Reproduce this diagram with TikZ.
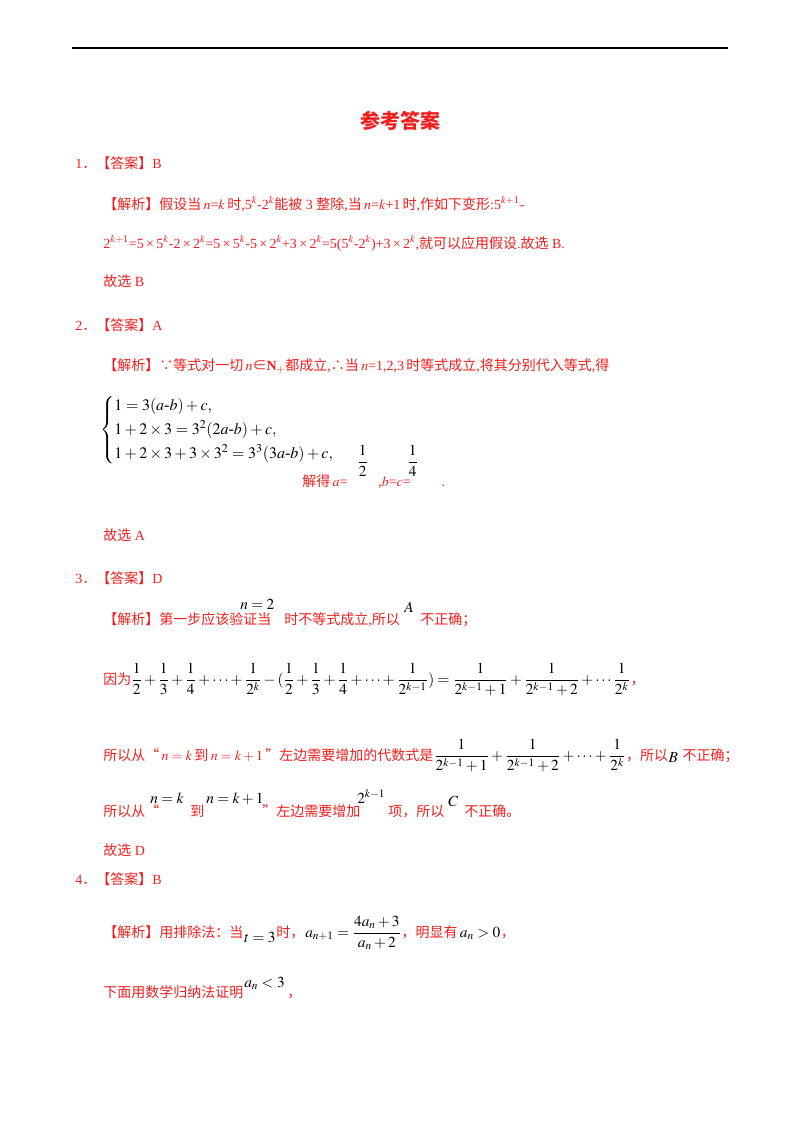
\documentclass[tikz,border=0pt]{standalone}
\usepackage{amsmath}
\usepackage{mathptmx}
\usepackage{fontspec}
\setmainfont{Liberation Serif}
\newfontfamily\cjk{Noto Sans CJK SC}
\definecolor{ans}{HTML}{F01E1E}
\newcommand{\zh}[1]{{\cjk #1}}
\begin{document}
\begin{tikzpicture}[x=0.75pt,y=-0.75pt,
  txt/.style={anchor=base west,inner sep=0,text=ans,font=\fontsize{10.5}{12}\selectfont},
  blk/.style={anchor=base west,inner sep=0,text=black,font=\fontsize{11.5}{13}\selectfont}]
\useasboundingbox (0,0) rectangle (800,1132);
\coordinate (rl) at (72,48); \coordinate (rr) at (728,48);
\draw[line width=1.2pt] (rl) -- (rr);
\node[anchor=center,inner sep=0,text=ans,font=\fontsize{15}{18}\selectfont\cjk\bfseries] (title) at (400,121) {参考答案};
% 1
\node[txt] (h1) at (75,168) {1\zh{．【答案】}B};
\node[txt] (p1a) at (103,209) {\zh{【解析】假设当}\,$n$=$k$\,\zh{时},5$^k$-2$^k$\zh{能被} 3 \zh{整除},\zh{当}\,$n$=$k$+1\,\zh{时},\zh{作如下变形}:5$^{k+1}$-};
\node[txt] (p1b) at (103,248) {2$^{k+1}$=5\,×\,5$^k$-2\,×\,2$^k$=5\,×\,5$^k$-5\,×\,2$^k$+3\,×\,2$^k$=5(5$^k$-2$^k$)+3\,×\,2$^k$,\zh{就可以应用假设}.\zh{故选} B.};
\node[txt] (g1) at (103,286) {\zh{故选} B};
% 2
\node[txt] (h2) at (75,330) {2\zh{．【答案】}A};
\node[txt] (p2) at (103,370) {\zh{【解析】∵等式对一切}\,$n$\zh{∈}\textbf{N}$_+$\zh{都成立},\zh{∴当}\,$n$=1,2,3\,\zh{时等式成立},\zh{将其分别代入等式},\zh{得}};
\node[anchor=west,inner sep=0,font=\fontsize{12}{14}\selectfont] (sys) at (100,430) {$\begin{cases}1=3(a\text{-}b)+c,\\[1pt] 1+2\times3=3^2(2a\text{-}b)+c,\\[1pt] 1+2\times3+3\times3^2=3^3(3a\text{-}b)+c,\end{cases}$};
\node[blk] (f12) at (357,466) {$\dfrac{1}{2}$};
\node[blk] (f14) at (407,466) {$\dfrac{1}{4}$};
\node[txt] (sol) at (302,486) {\zh{解得}\,$a$=\hspace{2.2em},$b$=$c$=\hspace{2.2em}.};
\node[txt] (g2) at (103,540) {\zh{故选} A};
% 3
\node[txt] (h3) at (75,583) {3\zh{．【答案】}D};
\node[txt] (p3a) at (103,624) {\zh{【解析】第一步应该验证当}};
\node[blk] (n2) at (240,609) {$n=2$};
\node[txt] (p3b) at (284,624) {\zh{时不等式成立},\zh{所以}};
\node[blk] (A) at (404,612) {$A$};
\node[txt] (p3c) at (420,624) {\zh{不正确；}};
\node[txt] (yw) at (103,684) {\zh{因为}};
\node[blk] (eq1) at (131,684) {$\dfrac12+\dfrac13+\dfrac14+\cdots+\dfrac{1}{2^k}-(\dfrac12+\dfrac13+\dfrac14+\cdots+\dfrac{1}{2^{k-1}})=\dfrac{1}{2^{k-1}+1}+\dfrac{1}{2^{k-1}+2}+\cdots\dfrac{1}{2^k}$};
\node[txt] (c1) at (eq1.base east) {\zh{，}};
\node[txt] (l3a) at (103,760) {\zh{所以从“}\,$n=k$\,\zh{到}\,$n=k+1$\,\zh{”左边需要增加的代数式是}};
\node[blk] (eq2) at (l3a.base east) {$\dfrac{1}{2^{k-1}+1}+\dfrac{1}{2^{k-1}+2}+\cdots+\dfrac{1}{2^k}$};
\node[txt] (l3b) at (eq2.base east) {\zh{，所以}};
\node[blk,anchor=base west] (B) at ([yshift=-2pt]l3b.base east) {$B$};
\node[txt] (l3c) at ([xshift=3pt]l3b.base -| B.east) {\zh{不正确；}};
\node[txt] (l4a) at (103,816) {\zh{所以从“}};
\node[blk] (nk) at (150,803) {$n=k$};
\node[txt] (l4b) at (190,816) {\zh{到}};
\node[blk] (nk1) at (206,803) {$n=k+1$};
\node[txt] (l4c) at (262,816) {\zh{”左边需要增加}};
\node[blk] (pw) at (357,803) {$2^{k-1}$};
\node[txt] (l4d) at (388,816) {\zh{项，所以}};
\node[blk] (C) at (448,806) {$C$};
\node[txt] (l4e) at (464,816) {\zh{不正确。}};
\node[txt] (g3) at (103,855) {\zh{故选} D};
% 4
\node[txt] (h4) at (75,884) {4\zh{．【答案】}B};
\node[txt] (p4a) at (103,937) {\zh{【解析】用排除法：当}};
\node[blk] (t3) at (244,942) {$t=3$};
\node[txt] (p4b) at (276,937) {\zh{时，}};
\node[blk] (rec) at (305,937) {$a_{n+1}=\dfrac{4a_n+3}{a_n+2}$};
\node[txt] (p4c) at (rec.base east) {\zh{，明显有}};
\node[blk] (pos) at (p4c.base east) {$\,a_n>0$};
\node[txt] (p4d) at (pos.base east) {\zh{，}};
\node[txt] (p4e) at (103,997) {\zh{下面用数学归纳法证明}};
\node[blk] (lt) at (244,987) {$a_n<3$};
\node[txt] (p4f) at (287,997) {\zh{，}};
\end{tikzpicture}
\end{document}
